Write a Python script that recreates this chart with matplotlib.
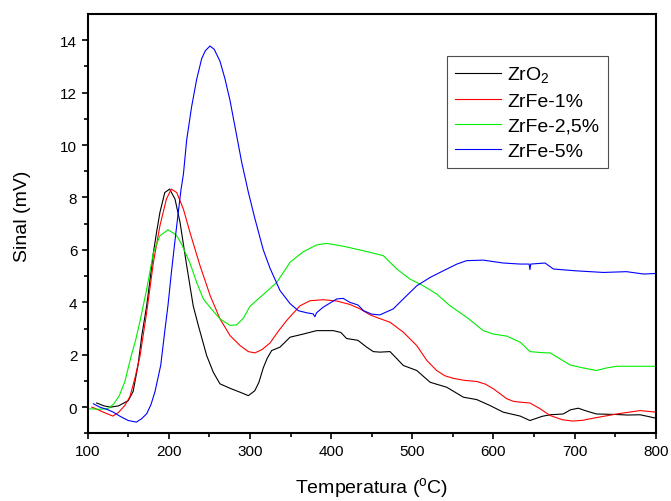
import numpy as np
import matplotlib.pyplot as plt

plt.rcParams['font.family'] = ['Liberation Sans', 'DejaVu Sans']
plt.rcParams['mathtext.fontset'] = 'custom'
plt.rcParams['mathtext.rm'] = 'Liberation Sans'

# ZrO2
x_zro2 = [111, 120, 128, 138, 150, 156, 162, 167, 172.7, 177, 181, 185, 189, 195, 201, 207.6, 213.8,
          218, 222, 230, 236.5, 246.6, 254.8, 263, 275.4, 287.8, 298, 306, 311, 316.4, 321, 326.7,
          337, 349.4, 365.7, 382, 402.7, 412, 419, 433, 443.8, 452, 460, 472.6, 489, 505.5, 522,
          542.5, 563, 579.4, 596, 612, 633, 645, 660, 670, 686, 695, 704.6, 715, 727, 752, 765,
          780.7, 790, 800]
y_zro2 = [0.16, 0.05, 0.0, 0.05, 0.25, 0.6, 1.6, 2.8, 3.87, 4.9, 5.9, 6.7, 7.43, 8.19, 8.32, 7.94, 7.05,
          6.2, 5.4, 3.87, 3.1, 1.97, 1.33, 0.89, 0.72, 0.57, 0.44, 0.63, 0.95, 1.5, 1.85, 2.16,
          2.29, 2.67, 2.79, 2.92, 2.92, 2.85, 2.62, 2.55, 2.29, 2.12, 2.1, 2.12, 1.59, 1.4, 0.95,
          0.76, 0.38, 0.29, 0.06, -0.19, -0.34, -0.51, -0.35, -0.29, -0.26, -0.1, -0.04, -0.15, -0.26, -0.28, -0.3,
          -0.29, -0.35, -0.42]

# ZrFe-1%
x_fe1 = [105, 108.6, 120, 131, 138, 145.6, 152, 158, 164.6, 172.7, 181, 189, 197, 203, 209.7, 218,
         226, 238.4, 251, 263, 275.4, 287.8, 298, 306, 315, 324.7, 335, 345, 361.7, 374, 390, 407,
         423, 435.6, 448, 460, 472.6, 489, 505.5, 518, 530, 540, 550.6, 565, 579.4, 590, 600, 616.5,
         625, 633, 645, 657, 670, 685, 698, 710, 723, 752, 780.7, 800]
y_fe1 = [0.0, -0.04, -0.2, -0.34, -0.2, 0.06, 0.4, 1.08, 1.97, 3.62, 5.53, 6.92, 7.94, 8.32, 8.19, 7.55,
         6.67, 5.4, 4.25, 3.37, 2.73, 2.35, 2.12, 2.07, 2.2, 2.45, 2.9, 3.3, 3.87, 4.06, 4.1, 4.05,
         3.92, 3.75, 3.52, 3.38, 3.24, 2.86, 2.35, 1.78, 1.4, 1.2, 1.1, 1.02, 0.98, 0.88, 0.7, 0.32,
         0.22, 0.19, 0.16, -0.05, -0.32, -0.48, -0.53, -0.5, -0.42, -0.26, -0.13, -0.19]

# ZrFe-2,5%
x_fe25 = [100, 115, 125, 132, 139, 146, 153.7, 159, 164.6, 172.7, 181, 189, 199, 207.6, 211, 216,
          226, 234.4, 242.5, 251, 263, 275.4, 283.6, 292, 300, 316.4, 333, 349.4, 365.7, 382, 394.6,
          415, 439.6, 464.3, 481, 497, 513.6, 530, 546.5, 567, 587.5, 600, 616.5, 633, 645, 660, 670,
          694.5, 710, 727, 740, 752, 776.6, 800]
y_fe25 = [-0.06, -0.08, -0.05, 0.12, 0.44, 1.0, 1.97, 2.55, 3.3, 4.5, 5.9, 6.54, 6.77, 6.6, 6.48, 6.2,
          5.5, 4.75, 4.13, 3.8, 3.37, 3.12, 3.14, 3.4, 3.85, 4.3, 4.76, 5.53, 5.93, 6.19, 6.25,
          6.14, 5.97, 5.78, 5.27, 4.89, 4.63, 4.32, 3.87, 3.43, 2.92, 2.79, 2.71, 2.48, 2.12, 2.08, 2.07,
          1.61, 1.5, 1.4, 1.5, 1.56, 1.56, 1.56]

# ZrFe-5%
x_fe5 = [107, 115, 125, 131.5, 140, 150, 160, 166.5, 172.7, 178, 183, 190, 195, 199, 203, 207, 211.6,
         215, 218, 222, 228, 234.3, 240.5, 245, 250.7, 256, 263, 269, 275.4, 281.5, 289.8, 298, 306,
         316.4, 324.7, 337, 349.4, 359.6, 370, 377.7, 380, 382, 390, 407, 415, 423, 433, 440, 450,
         460, 476.6, 489, 505.5, 522, 538, 555, 567, 587.5, 612, 633, 644, 645, 646, 663.6, 674,
         702.6, 735.5, 764, 785, 800]
y_fe5 = [0.13, 0.0, -0.1, -0.19, -0.35, -0.51, -0.57, -0.44, -0.25, 0.1, 0.6, 1.6, 2.9, 3.9, 5.1, 6.2, 7.43,
         8.3, 8.9, 10.2, 11.45, 12.51, 13.3, 13.6, 13.78, 13.65, 13.2, 12.55, 11.7, 10.7, 9.34, 8.2, 7.2,
         6.0, 5.3, 4.45, 3.95, 3.68, 3.6, 3.56, 3.45, 3.6, 3.81, 4.13, 4.15, 4.0, 3.9, 3.68, 3.55,
         3.52, 3.75, 4.13, 4.63, 4.95, 5.2, 5.46, 5.59, 5.61, 5.5, 5.46, 5.46, 5.25, 5.46, 5.5, 5.27,
         5.2, 5.14, 5.17, 5.08, 5.1]

fig = plt.figure(figsize=(6.71, 5.02), dpi=100)
ax = fig.add_axes([0.1307, 0.1347, 0.8465, 0.8354])

ax.plot(x_zro2, y_zro2, color='black', lw=0.8, label='ZrO$_2$')
ax.plot(x_fe1, y_fe1, color='red', lw=0.8, label='ZrFe-1%')
ax.plot(x_fe25, y_fe25, color='#00ee00', lw=0.8, label='ZrFe-2,5%')
ax.plot(x_fe5, y_fe5, color='blue', lw=0.8, label='ZrFe-5%')

ax.set_xlim(100, 800)
ax.set_ylim(-1, 15)
ax.set_xticks(np.arange(100, 801, 100))
ax.set_xticks(np.arange(150, 800, 100), minor=True)
ax.set_yticks(np.arange(0, 15, 2))
ax.set_yticks(np.arange(-1, 15, 2), minor=True)
ax.tick_params(which='both', direction='out', top=False, right=False, labelsize=11, width=1.2)
ax.tick_params(which='major', length=4)
ax.tick_params(which='minor', length=3)
for s in ax.spines.values():
    s.set_linewidth(1.5)

ax.set_xlabel('Temperatura ($^{\\mathrm{o}}$C)', fontsize=14)
ax.set_ylabel('Sinal (mV)', fontsize=14)
ax.xaxis.set_label_coords(0.5, -0.1)
ax.yaxis.set_label_coords(-0.1, 0.52)

leg = ax.legend(loc='upper left', bbox_to_anchor=(0.632, 0.9006), borderaxespad=0,
                fontsize=14, frameon=True, fancybox=False, handlelength=2.35,
                labelspacing=0.38, handletextpad=0.3, borderpad=0.45)
leg.get_frame().set_edgecolor('#222222')
leg.get_frame().set_linewidth(0.8)

plt.savefig('out.png', dpi=100)
